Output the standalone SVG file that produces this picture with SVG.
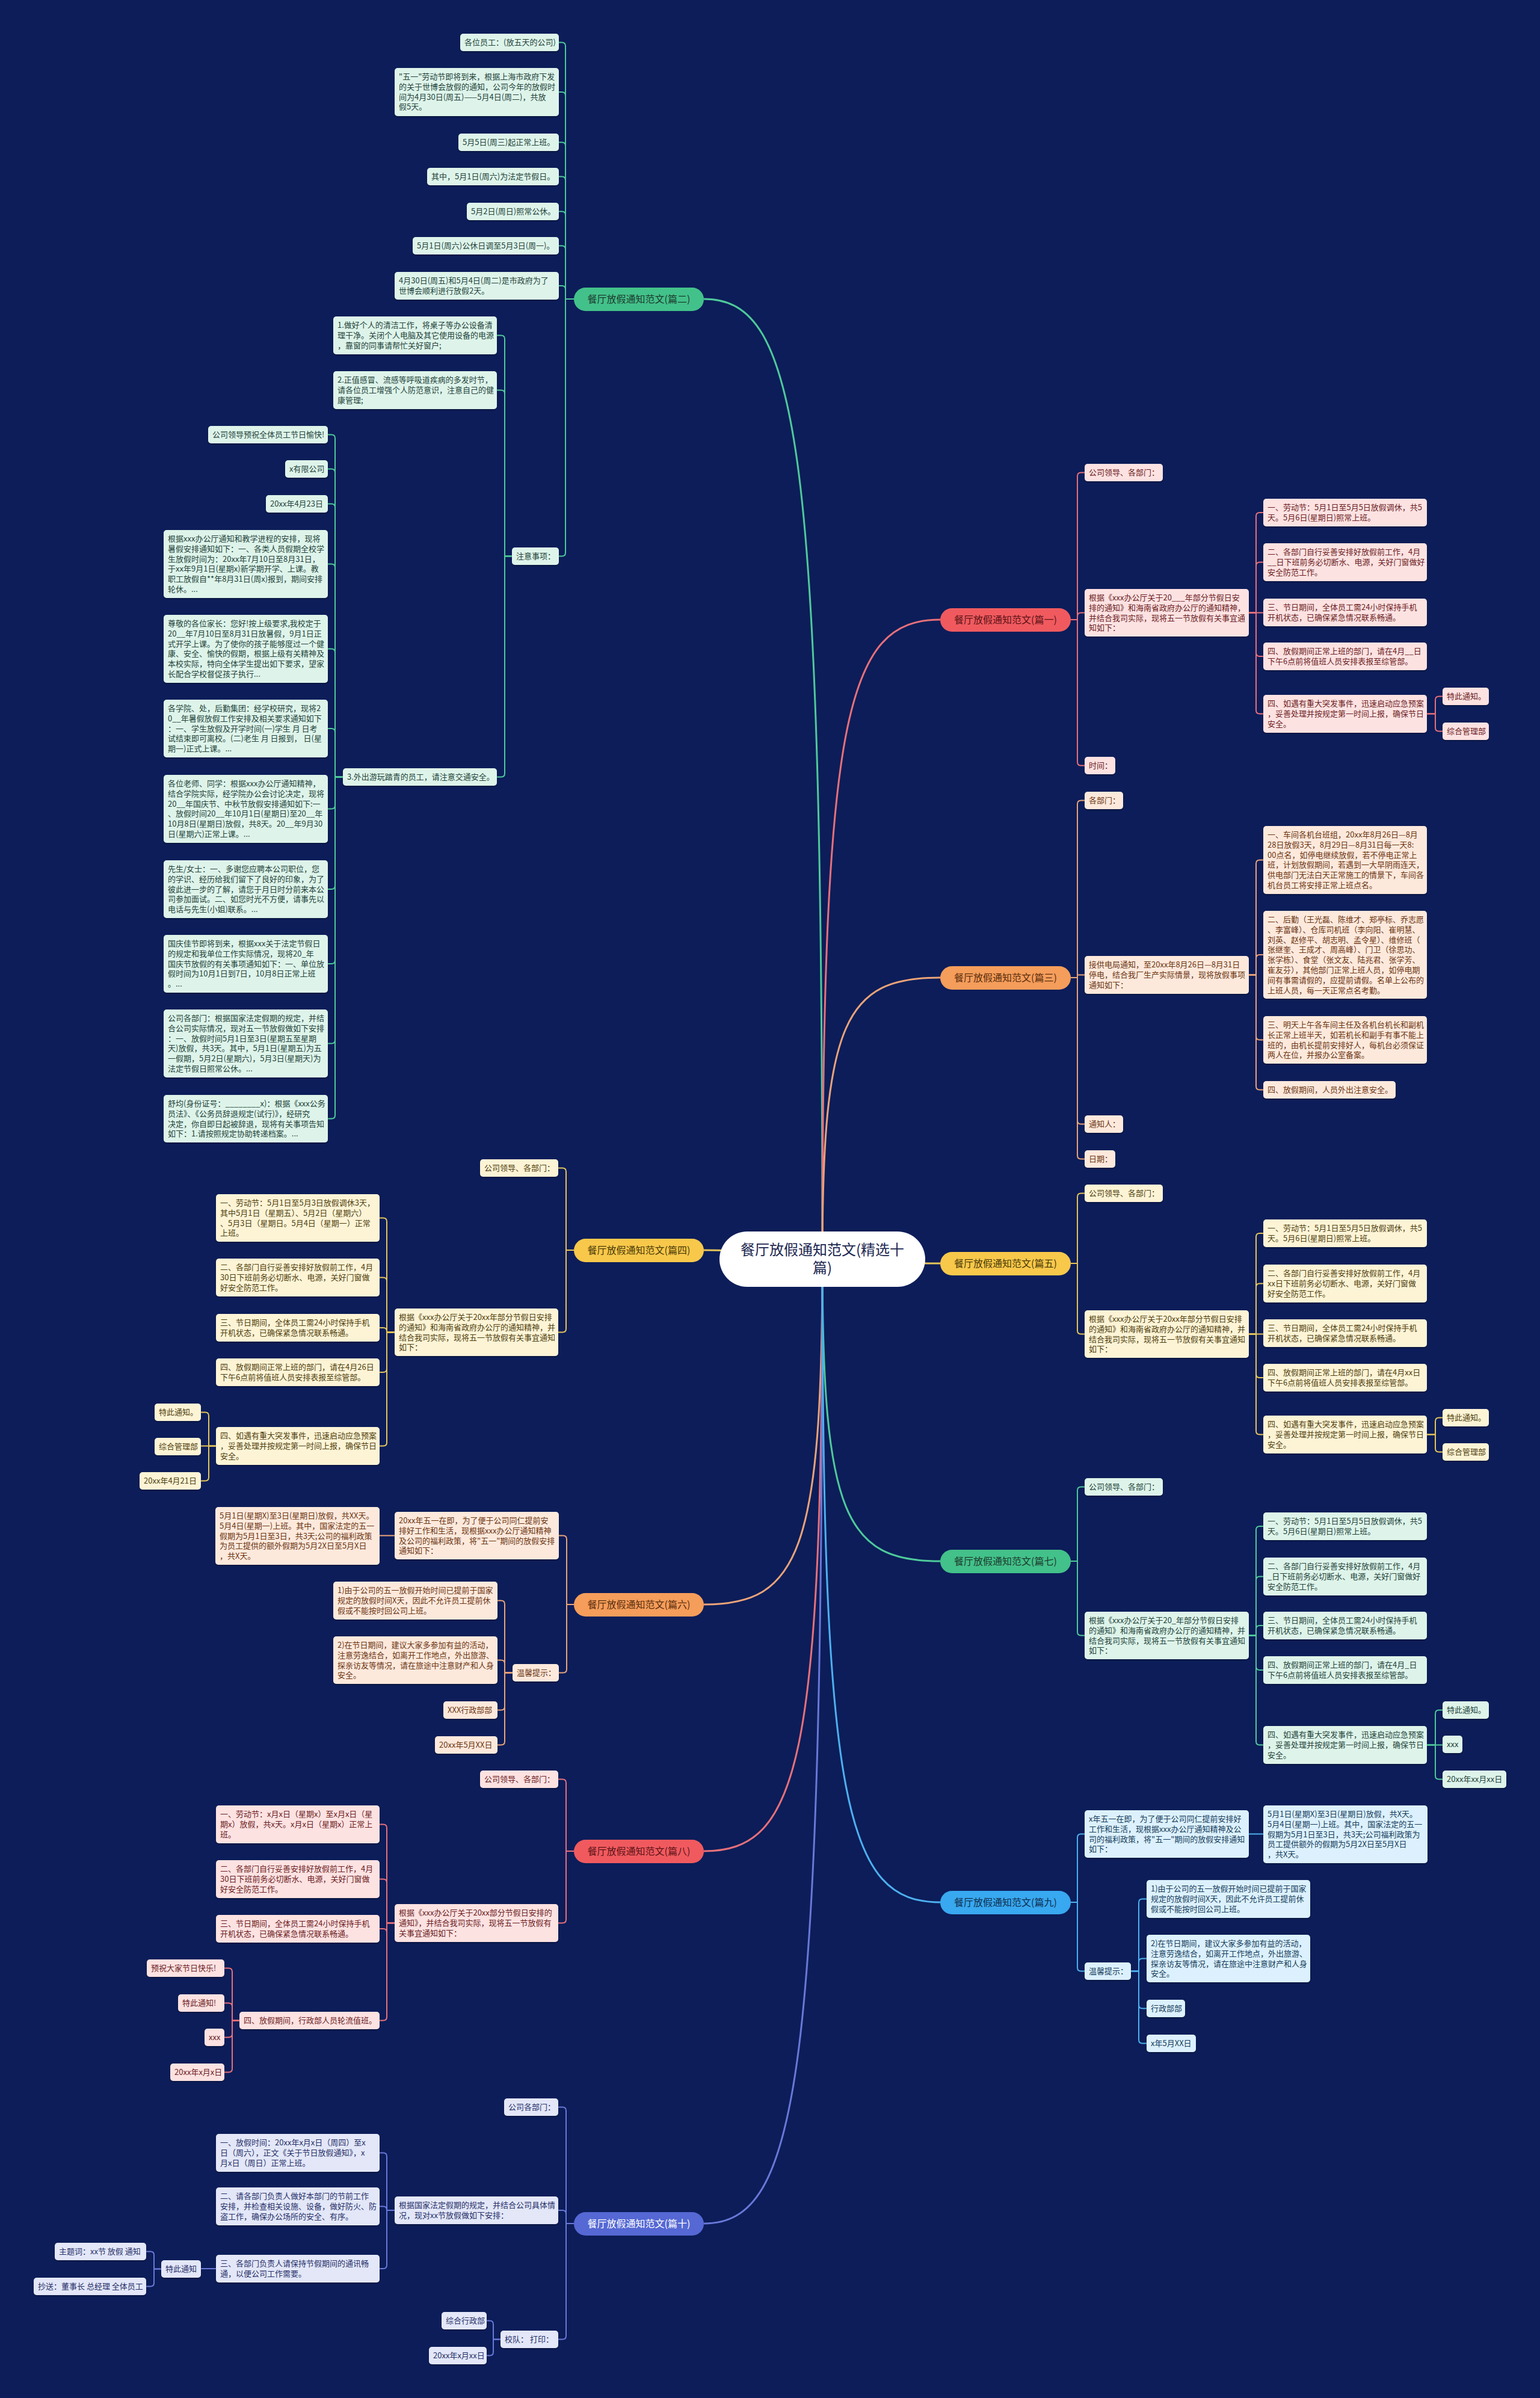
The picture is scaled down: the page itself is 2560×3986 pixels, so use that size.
<svg xmlns="http://www.w3.org/2000/svg" width="2560" height="3986" viewBox="0 0 2560 3986">
<defs>
<style>
.t{font-family:"Noto Sans CJK SC","Microsoft YaHei","Liberation Sans",sans-serif;font-size:13px}
.pt{font-family:"Noto Sans CJK SC","Microsoft YaHei","Liberation Sans",sans-serif;font-size:16px;text-anchor:middle}
.ct{font-family:"Noto Sans CJK SC","Microsoft YaHei","Liberation Sans",sans-serif;font-size:24px;text-anchor:middle;fill:#1c2750}
.b{filter:url(#sh)}
.bgr{fill:#def4ea}.tgr{fill:#24433a}
.brd{fill:#fde2e2}.trd{fill:#6b1d22}
.bor{fill:#fde9dc}.tor{fill:#6b3512}
.bye{fill:#fdf4d6}.tye{fill:#4f3f0e}
.bbl{fill:#dcf1fd}.tbl{fill:#163c5a}
.bin{fill:#e3e7f8}.tin{fill:#273069}
.pgr{fill:#43c18a}.ptgr{fill:#1c3b2e}
.prd{fill:#f05a5f}.ptrd{fill:#5c1216}
.por{fill:#f59d5b}.ptor{fill:#5a2d0c}
.pye{fill:#f8c84b}.ptye{fill:#4a3a08}
.pbl{fill:#38a8f0}.ptbl{fill:#0f2f4f}
.pin{fill:#5568d4}.ptin{fill:#ffffff}
.ln{fill:none;stroke-width:2}
.mn{fill:none;stroke-width:3}
.lgr{stroke:#4fc99a}.lrd{stroke:#e8707a}.lor{stroke:#eba379}.lye{stroke:#e5c558}.lbl{stroke:#4db0ef}.lin{stroke:#6a78d8}
</style>
<filter id="sh" x="-5%" y="-10%" width="110%" height="130%"><feDropShadow dx="0" dy="1.5" stdDeviation="1" flood-color="#000" flood-opacity="0.35"/></filter>
</defs>
<rect x="0" y="0" width="2560" height="3986" fill="#0c1d59"/>

<g id="connectors">
<!-- main branches -->
<path class="mn lgr" d="M1170,497 C1328,497 1367,736 1367,2093"/>
<path class="mn lye" d="M1170,2078 C1290,2078 1300,2093 1367,2093"/>
<path class="mn lor" d="M1170,2667 C1328,2667 1367,2581 1367,2093"/>
<path class="mn lrd" d="M1170,3077 C1328,3077 1367,2929 1367,2093"/>
<path class="mn lin" d="M1170,3696 C1328,3696 1367,3456 1367,2093"/>
<path class="mn lrd" d="M1563,1030 C1406,1030 1367,1189 1367,2093"/>
<path class="mn lor" d="M1563,1625 C1406,1625 1367,1695 1367,2093"/>
<path class="mn lye" d="M1563,2100 C1440,2100 1430,2093 1367,2093"/>
<path class="mn lgr" d="M1563,2595 C1406,2595 1367,2520 1367,2093"/>
<path class="mn lbl" d="M1563,3162 C1406,3162 1367,3002 1367,2093"/>

<!-- 篇二 -->
<g class="ln lgr">
<path d="M954,497H940V76.5Q940,70.5 934,70.5H929"/>
<path d="M954,497H940V159Q940,153 934,153H929"/>
<path d="M954,497H940V242.5Q940,236.5 934,236.5H929"/>
<path d="M954,497H940V299.5Q940,293.5 934,293.5H929"/>
<path d="M954,497H940V357.5Q940,351.5 934,351.5H929"/>
<path d="M954,497H940V414.5Q940,408.5 934,408.5H929"/>
<path d="M954,497H940V481Q940,475 934,475H929"/>
<path d="M954,497H940V918.5Q940,924.5 934,924.5H929"/>
<path d="M851,924.5H839V563.5Q839,557.5 833,557.5H826"/>
<path d="M851,924.5H839V654.5Q839,648.5 833,648.5H826"/>
<path d="M851,924.5H839V1285.5Q839,1291.5 833,1291.5H826"/>
<path d="M570,1291.5H557V728.5Q557,722.5 551,722.5H545"/>
<path d="M570,1291.5H557V785.5Q557,779.5 551,779.5H545"/>
<path d="M570,1291.5H557V843.5Q557,837.5 551,837.5H545"/>
<path d="M570,1291.5H557V943.5Q557,937.5 551,937.5H545"/>
<path d="M570,1291.5H557V1084.5Q557,1078.5 551,1078.5H545"/>
<path d="M570,1291.5H557V1217Q557,1211 551,1211H545"/>
<path d="M570,1291.5H557V1338.5Q557,1344.5 551,1344.5H545"/>
<path d="M570,1291.5H557V1472Q557,1478 551,1478H545"/>
<path d="M570,1291.5H557V1596Q557,1602 551,1602H545"/>
<path d="M570,1291.5H557V1728.5Q557,1734.5 551,1734.5H545"/>
<path d="M570,1291.5H557V1853.5Q557,1859.5 551,1859.5H545"/>
</g>
<!-- 篇一 -->
<g class="ln lrd">
<path d="M1780,1030H1791V791.5Q1791,785.5 1797,785.5H1803"/>
<path d="M1780,1030H1791V1024.5Q1791,1018.5 1797,1018.5H1803"/>
<path d="M1780,1030H1791V1266.5Q1791,1272.5 1797,1272.5H1803"/>
<path d="M2076,1018.5H2088V858Q2088,852 2094,852H2100"/>
<path d="M2076,1018.5H2088V940.5Q2088,934.5 2094,934.5H2100"/>
<path d="M2076,1018.5H2100"/>
<path d="M2076,1018.5H2088V1085Q2088,1091 2094,1091H2100"/>
<path d="M2076,1018.5H2088V1180.5Q2088,1186.5 2094,1186.5H2100"/>
<path d="M2372,1186.5H2386V1163.5Q2386,1157.5 2392,1157.5H2398"/>
<path d="M2372,1186.5H2386V1209.5Q2386,1215.5 2392,1215.5H2398"/>
</g>
<!-- 篇三 -->
<g class="ln lor">
<path d="M1780,1625H1791V1336.5Q1791,1330.5 1797,1330.5H1803"/>
<path d="M1780,1625H1791V1620.5H1803"/>
<path d="M1780,1625H1791V1862.5Q1791,1868.5 1797,1868.5H1803"/>
<path d="M1780,1625H1791V1920.5Q1791,1926.5 1797,1926.5H1803"/>
<path d="M2076,1620.5H2088V1435.5Q2088,1429.5 2094,1429.5H2100"/>
<path d="M2076,1620.5H2088V1593Q2088,1587 2094,1587H2100"/>
<path d="M2076,1620.5H2088V1722.5Q2088,1728.5 2094,1728.5H2100"/>
<path d="M2076,1620.5H2088V1805.5Q2088,1811.5 2094,1811.5H2100"/>
</g>
<!-- 篇四 -->
<g class="ln lye">
<path d="M954,2078H941V1947.5Q941,1941.5 935,1941.5H928"/>
<path d="M954,2078H941V2208.5Q941,2214.5 935,2214.5H928"/>
<path d="M656,2214.5H643V2030.5Q643,2024.5 637,2024.5H631"/>
<path d="M656,2214.5H643V2129.5Q643,2123.5 637,2123.5H631"/>
<path d="M656,2214.5H643V2213Q643,2207 637,2207H631"/>
<path d="M656,2214.5H643V2275Q643,2281 637,2281H631"/>
<path d="M656,2214.5H643V2397.5Q643,2403.5 637,2403.5H631"/>
<path d="M359,2403.5H347V2353.5Q347,2347.5 341,2347.5H334"/>
<path d="M359,2403.5H334"/>
<path d="M359,2403.5H347V2455.5Q347,2461.5 341,2461.5H334"/>
</g>
<!-- 篇五 -->
<g class="ln lye">
<path d="M1780,2100H1791V1989.5Q1791,1983.5 1797,1983.5H1803"/>
<path d="M1780,2100H1791V2211.5Q1791,2217.5 1797,2217.5H1803"/>
<path d="M2076,2217.5H2088V2056Q2088,2050 2094,2050H2100"/>
<path d="M2076,2217.5H2088V2139.5Q2088,2133.5 2094,2133.5H2100"/>
<path d="M2076,2217.5H2100"/>
<path d="M2076,2217.5H2088V2284Q2088,2290 2094,2290H2100"/>
<path d="M2076,2217.5H2088V2378.5Q2088,2384.5 2094,2384.5H2100"/>
<path d="M2372,2384.5H2386V2362.5Q2386,2356.5 2392,2356.5H2398"/>
<path d="M2372,2384.5H2386V2407.5Q2386,2413.5 2392,2413.5H2398"/>
</g>
<!-- 篇六 -->
<g class="ln lor">
<path d="M954,2667H942V2558.5Q942,2552.5 936,2552.5H929"/>
<path d="M954,2667H942V2774.5Q942,2780.5 936,2780.5H929"/>
<path d="M656,2552.5H631"/>
<path d="M852,2780.5H839V2666.5Q839,2660.5 833,2660.5H827"/>
<path d="M852,2780.5H839V2765.5Q839,2759.5 833,2759.5H827"/>
<path d="M852,2780.5H839V2836.5Q839,2842.5 833,2842.5H827"/>
<path d="M852,2780.5H839V2894.5Q839,2900.5 833,2900.5H827"/>
</g>
<!-- 篇七 -->
<g class="ln lgr">
<path d="M1780,2595H1791V2477.5Q1791,2471.5 1797,2471.5H1803"/>
<path d="M1780,2595H1791V2712.5Q1791,2718.5 1797,2718.5H1803"/>
<path d="M2076,2718.5H2088V2543Q2088,2537 2094,2537H2100"/>
<path d="M2076,2718.5H2088V2626.5Q2088,2620.5 2094,2620.5H2100"/>
<path d="M2076,2718.5H2088V2708Q2088,2702 2094,2702H2100"/>
<path d="M2076,2718.5H2088V2770Q2088,2776 2094,2776H2100"/>
<path d="M2076,2718.5H2088V2894.5Q2088,2900.5 2094,2900.5H2100"/>
<path d="M2372,2900.5H2386V2848.5Q2386,2842.5 2392,2842.5H2398"/>
<path d="M2372,2900.5H2398"/>
<path d="M2372,2900.5H2386V2951.5Q2386,2957.5 2392,2957.5H2398"/>
</g>
<!-- 篇八 -->
<g class="ln lrd">
<path d="M954,3077H941V2963.5Q941,2957.5 935,2957.5H928"/>
<path d="M954,3077H941V3190.5Q941,3196.5 935,3196.5H928"/>
<path d="M656,3196.5H643V3038.5Q643,3032.5 637,3032.5H631"/>
<path d="M656,3196.5H643V3129.5Q643,3123.5 637,3123.5H631"/>
<path d="M656,3196.5H643V3212Q643,3206 637,3206H631"/>
<path d="M656,3196.5H643V3352.5Q643,3358.5 637,3358.5H631"/>
<path d="M398,3358.5H386V3277.5Q386,3271.5 380,3271.5H373"/>
<path d="M398,3358.5H386V3335.5Q386,3329.5 380,3329.5H373"/>
<path d="M398,3358.5H386V3380.5Q386,3386.5 380,3386.5H373"/>
<path d="M398,3358.5H386V3438.5Q386,3444.5 380,3444.5H373"/>
</g>
<!-- 篇九 -->
<g class="ln lbl">
<path d="M1780,3162H1791V3054.5Q1791,3048.5 1797,3048.5H1803"/>
<path d="M1780,3162H1791V3270.5Q1791,3276.5 1797,3276.5H1803"/>
<path d="M2076,3048.5H2100"/>
<path d="M1880,3276.5H1893V3162.5Q1893,3156.5 1899,3156.5H1906"/>
<path d="M1880,3276.5H1893V3261.5Q1893,3255.5 1899,3255.5H1906"/>
<path d="M1880,3276.5H1893V3332.5Q1893,3338.5 1899,3338.5H1906"/>
<path d="M1880,3276.5H1893V3390.5Q1893,3396.5 1899,3396.5H1906"/>
</g>
<!-- 篇十 -->
<g class="ln lin">
<path d="M954,3696H941V3508.5Q941,3502.5 935,3502.5H928"/>
<path d="M954,3696H941V3680Q941,3674 935,3674H928"/>
<path d="M954,3696H941V3882.5Q941,3888.5 935,3888.5H928"/>
<path d="M656,3674H643V3584.5Q643,3578.5 637,3578.5H631"/>
<path d="M656,3674H643V3673.5Q643,3667.5 637,3667.5H631"/>
<path d="M656,3674H643V3765Q643,3771 637,3771H631"/>
<path d="M359,3771H334"/>
<path d="M268,3771.5H256V3748.5Q256,3742.5 250,3742.5H243"/>
<path d="M268,3771.5H256V3794.5Q256,3800.5 250,3800.5H243"/>
<path d="M832,3888.5H820V3863.5Q820,3857.5 814,3857.5H809"/>
<path d="M832,3888.5H820V3909.5Q820,3915.5 814,3915.5H809"/>
</g>
</g>

<g id="center">
<rect x="1196" y="2047" width="342" height="92" rx="46" fill="#ffffff"/>
<text class="ct" x="1367" y="2086">餐厅放假通知范文(精选十</text>
<text class="ct" x="1367" y="2116">篇)</text>
</g>

<!-- pills -->
<g id="b2"><rect class="pgr" x="954" y="478" width="216" height="39" rx="19.5"/><text class="pt ptgr" x="1062" y="503">餐厅放假通知范文(篇二)</text></g>
<g id="b4"><rect class="pye" x="954" y="2059" width="216" height="39" rx="19.5"/><text class="pt ptye" x="1062" y="2084">餐厅放假通知范文(篇四)</text></g>
<g id="b6"><rect class="por" x="954" y="2648" width="216" height="39" rx="19.5"/><text class="pt ptor" x="1062" y="2673">餐厅放假通知范文(篇六)</text></g>
<g id="b8"><rect class="prd" x="954" y="3058" width="216" height="39" rx="19.5"/><text class="pt ptrd" x="1062" y="3083">餐厅放假通知范文(篇八)</text></g>
<g id="b10"><rect class="pin" x="954" y="3677" width="216" height="39" rx="19.5"/><text class="pt ptin" x="1062" y="3702">餐厅放假通知范文(篇十)</text></g>
<g id="b1"><rect class="prd" x="1563" y="1011" width="217" height="39" rx="19.5"/><text class="pt ptrd" x="1671.5" y="1036">餐厅放假通知范文(篇一)</text></g>
<g id="b3"><rect class="por" x="1563" y="1606" width="217" height="39" rx="19.5"/><text class="pt ptor" x="1671.5" y="1631">餐厅放假通知范文(篇三)</text></g>
<g id="b5"><rect class="pye" x="1563" y="2081" width="217" height="39" rx="19.5"/><text class="pt ptye" x="1671.5" y="2106">餐厅放假通知范文(篇五)</text></g>
<g id="b7"><rect class="pgr" x="1563" y="2576" width="217" height="39" rx="19.5"/><text class="pt ptgr" x="1671.5" y="2601">餐厅放假通知范文(篇七)</text></g>
<g id="b9"><rect class="pbl" x="1563" y="3143" width="217" height="39" rx="19.5"/><text class="pt ptbl" x="1671.5" y="3168">餐厅放假通知范文(篇九)</text></g>

<!-- 篇二 nodes -->
<g id="n2-1"><rect class="b bgr" x="765" y="56" width="164" height="29" rx="5"/><text class="t tgr" x="772" y="75">各位员工：(放五天的公司)</text></g>
<g id="n2-2"><rect class="b bgr" x="656" y="113" width="273" height="80" rx="5"/><text class="t tgr" x="663" y="132"><tspan x="663">"五一"劳动节即将到来，根据上海市政府下发</tspan><tspan x="663" dy="16.8">的关于世博会放假的通知，公司今年的放假时</tspan><tspan x="663" dy="16.8">间为4月30日(周五)——5月4日(周二)，共放</tspan><tspan x="663" dy="16.8">假5天。</tspan></text></g>
<g id="n2-3"><rect class="b bgr" x="762" y="222" width="167" height="29" rx="5"/><text class="t tgr" x="769" y="241">5月5日(周三)起正常上班。</text></g>
<g id="n2-4"><rect class="b bgr" x="710" y="279" width="219" height="29" rx="5"/><text class="t tgr" x="717" y="298">其中，5月1日(周六)为法定节假日。</text></g>
<g id="n2-5"><rect class="b bgr" x="776" y="337" width="153" height="29" rx="5"/><text class="t tgr" x="783" y="356">5月2日(周日)照常公休。</text></g>
<g id="n2-6"><rect class="b bgr" x="686" y="394" width="243" height="29" rx="5"/><text class="t tgr" x="693" y="413">5月1日(周六)公休日调至5月3日(周一)。</text></g>
<g id="n2-7"><rect class="b bgr" x="656" y="452" width="273" height="46" rx="5"/><text class="t tgr" x="663" y="471"><tspan x="663">4月30日(周五)和5月4日(周二)是市政府为了</tspan><tspan x="663" dy="16.8">世博会顺利进行放假2天。</tspan></text></g>
<g id="n2-8"><rect class="b bgr" x="851" y="910" width="78" height="29" rx="5"/><text class="t tgr" x="858" y="929">注意事项：</text></g>
<g id="n2-9"><rect class="b bgr" x="554" y="526" width="272" height="63" rx="5"/><text class="t tgr" x="561" y="545"><tspan x="561">1.做好个人的清洁工作，将桌子等办公设备清</tspan><tspan x="561" dy="16.8">理干净。关闭个人电脑及其它使用设备的电源</tspan><tspan x="561" dy="16.8">，靠窗的同事请帮忙关好窗户;</tspan></text></g>
<g id="n2-10"><rect class="b bgr" x="554" y="617" width="272" height="63" rx="5"/><text class="t tgr" x="561" y="636"><tspan x="561">2.正值感冒、流感等呼吸道疾病的多发时节，</tspan><tspan x="561" dy="16.8">请各位员工增强个人防范意识，注意自己的健</tspan><tspan x="561" dy="16.8">康管理;</tspan></text></g>
<g id="n2-11"><rect class="b bgr" x="570" y="1277" width="256" height="29" rx="5"/><text class="t tgr" x="577" y="1296">3.外出游玩踏青的员工，请注意交通安全。</text></g>
<g id="n2-12"><rect class="b bgr" x="346" y="708" width="199" height="29" rx="5"/><text class="t tgr" x="353" y="727">公司领导预祝全体员工节日愉快!</text></g>
<g id="n2-13"><rect class="b bgr" x="474" y="765" width="71" height="29" rx="5"/><text class="t tgr" x="481" y="784">x有限公司</text></g>
<g id="n2-14"><rect class="b bgr" x="442" y="823" width="103" height="29" rx="5"/><text class="t tgr" x="449" y="842">20xx年4月23日</text></g>
<g id="n2-15"><rect class="b bgr" x="272" y="881" width="273" height="113" rx="5"/><text class="t tgr" x="279" y="900"><tspan x="279">根据xxx办公厅通知和教学进程的安排，现将</tspan><tspan x="279" dy="16.8">暑假安排通知如下：一、各类人员假期全校学</tspan><tspan x="279" dy="16.8">生放假时间为：20xx年7月10日至8月31日，</tspan><tspan x="279" dy="16.8">于xx年9月1日(星期x)新学期开学、上课。教</tspan><tspan x="279" dy="16.8">职工放假自**年8月31日(周x)报到，期间安排</tspan><tspan x="279" dy="16.8">轮休。...</tspan></text></g>
<g id="n2-16"><rect class="b bgr" x="272" y="1022" width="273" height="113" rx="5"/><text class="t tgr" x="279" y="1041"><tspan x="279">尊敬的各位家长：您好!按上级要求,我校定于</tspan><tspan x="279" dy="16.8">20__年7月10日至8月31日放暑假，9月1日正</tspan><tspan x="279" dy="16.8">式开学上课。为了使你的孩子能够度过一个健</tspan><tspan x="279" dy="16.8">康、安全、愉快的假期，根据上级有关精神及</tspan><tspan x="279" dy="16.8">本校实际，特向全体学生提出如下要求，望家</tspan><tspan x="279" dy="16.8">长配合学校督促孩子执行...</tspan></text></g>
<g id="n2-17"><rect class="b bgr" x="272" y="1163" width="273" height="96" rx="5"/><text class="t tgr" x="279" y="1182"><tspan x="279">各学院、处，后勤集团：经学校研究，现将2</tspan><tspan x="279" dy="16.8">0__年暑假放假工作安排及相关要求通知如下</tspan><tspan x="279" dy="16.8">：一、学生放假及开学时间(一)学生 月 日考</tspan><tspan x="279" dy="16.8">试结束即可离校。(二)老生 月 日报到， 日(星</tspan><tspan x="279" dy="16.8">期一)正式上课。...</tspan></text></g>
<g id="n2-18"><rect class="b bgr" x="272" y="1288" width="273" height="113" rx="5"/><text class="t tgr" x="279" y="1307"><tspan x="279">各位老师、同学：根据xxx办公厅通知精神，</tspan><tspan x="279" dy="16.8">结合学院实际，经学院办公会讨论决定，现将</tspan><tspan x="279" dy="16.8">20__年国庆节、中秋节放假安排通知如下:一</tspan><tspan x="279" dy="16.8">、放假时间20__年10月1日(星期日)至20__年</tspan><tspan x="279" dy="16.8">10月8日(星期日)放假，共8天。20__年9月30</tspan><tspan x="279" dy="16.8">日(星期六)正常上课。...</tspan></text></g>
<g id="n2-19"><rect class="b bgr" x="272" y="1430" width="273" height="96" rx="5"/><text class="t tgr" x="279" y="1449"><tspan x="279">先生/女士：一、多谢您应聘本公司职位，您</tspan><tspan x="279" dy="16.8">的学识、经历给我们留下了良好的印象，为了</tspan><tspan x="279" dy="16.8">彼此进一步的了解，请您于月日时分前来本公</tspan><tspan x="279" dy="16.8">司参加面试。二、如您时光不方便，请事先以</tspan><tspan x="279" dy="16.8">电话与先生(小姐)联系。...</tspan></text></g>
<g id="n2-20"><rect class="b bgr" x="272" y="1554" width="273" height="96" rx="5"/><text class="t tgr" x="279" y="1573"><tspan x="279">国庆佳节即将到来，根据xxx关于法定节假日</tspan><tspan x="279" dy="16.8">的规定和我单位工作实际情况，现将20_年</tspan><tspan x="279" dy="16.8">国庆节放假的有关事项通知如下：一、单位放</tspan><tspan x="279" dy="16.8">假时间为10月1日到7日，10月8日正常上班</tspan><tspan x="279" dy="16.8">。...</tspan></text></g>
<g id="n2-21"><rect class="b bgr" x="272" y="1678" width="273" height="113" rx="5"/><text class="t tgr" x="279" y="1697"><tspan x="279">公司各部门：根据国家法定假期的规定，并结</tspan><tspan x="279" dy="16.8">合公司实际情况，现对五一节放假做如下安排</tspan><tspan x="279" dy="16.8">：一、放假时间5月1日至3日(星期五至星期</tspan><tspan x="279" dy="16.8">天)放假，共3天。其中，5月1日(星期五)为五</tspan><tspan x="279" dy="16.8">一假期，5月2日(星期六)，5月3日(星期天)为</tspan><tspan x="279" dy="16.8">法定节假日照常公休。...</tspan></text></g>
<g id="n2-22"><rect class="b bgr" x="272" y="1820" width="273" height="79" rx="5"/><text class="t tgr" x="279" y="1839"><tspan x="279">舒均(身份证号：________x)：根据《xxx公务</tspan><tspan x="279" dy="16.8">员法》、《公务员辞退规定(试行)》，经研究</tspan><tspan x="279" dy="16.8">决定，你自即日起被辞退，现将有关事项告知</tspan><tspan x="279" dy="16.8">如下：1.请按照规定协助转递档案。...</tspan></text></g>

<!-- 篇一 nodes -->
<g id="n1-1"><rect class="b brd" x="1803" y="771" width="130" height="29" rx="5"/><text class="t trd" x="1810" y="790">公司领导、各部门：</text></g>
<g id="n1-2"><rect class="b brd" x="1803" y="979" width="273" height="79" rx="5"/><text class="t trd" x="1810" y="998"><tspan x="1810">根据《xxx办公厅关于20___年部分节假日安</tspan><tspan x="1810" dy="16.8">排的通知》和海南省政府办公厅的通知精神，</tspan><tspan x="1810" dy="16.8">并结合我司实际，现将五一节放假有关事宜通</tspan><tspan x="1810" dy="16.8">知如下：</tspan></text></g>
<g id="n1-3"><rect class="b brd" x="1803" y="1258" width="51" height="29" rx="5"/><text class="t trd" x="1810" y="1277">时间：</text></g>
<g id="n1-4"><rect class="b brd" x="2100" y="829" width="272" height="46" rx="5"/><text class="t trd" x="2107" y="848"><tspan x="2107">一、劳动节：5月1日至5月5日放假调休，共5</tspan><tspan x="2107" dy="16.8">天。5月6日(星期日)照常上班。</tspan></text></g>
<g id="n1-5"><rect class="b brd" x="2100" y="903" width="272" height="63" rx="5"/><text class="t trd" x="2107" y="922"><tspan x="2107">二、各部门自行妥善安排好放假前工作，4月</tspan><tspan x="2107" dy="16.8">__日下班前务必切断水、电源，关好门窗做好</tspan><tspan x="2107" dy="16.8">安全防范工作。</tspan></text></g>
<g id="n1-6"><rect class="b brd" x="2100" y="995" width="272" height="46" rx="5"/><text class="t trd" x="2107" y="1014"><tspan x="2107">三、节日期间，全体员工需24小时保持手机</tspan><tspan x="2107" dy="16.8">开机状态，已确保紧急情况联系畅通。</tspan></text></g>
<g id="n1-7"><rect class="b brd" x="2100" y="1068" width="272" height="46" rx="5"/><text class="t trd" x="2107" y="1087"><tspan x="2107">四、放假期间正常上班的部门，请在4月__日</tspan><tspan x="2107" dy="16.8">下午6点前将值班人员安排表报至综管部。</tspan></text></g>
<g id="n1-8"><rect class="b brd" x="2100" y="1155" width="272" height="63" rx="5"/><text class="t trd" x="2107" y="1174"><tspan x="2107">四、如遇有重大突发事件，迅速启动应急预案</tspan><tspan x="2107" dy="16.8">，妥善处理并按规定第一时间上报，确保节日</tspan><tspan x="2107" dy="16.8">安全。</tspan></text></g>
<g id="n1-9"><rect class="b brd" x="2398" y="1143" width="77" height="29" rx="5"/><text class="t trd" x="2405" y="1162">特此通知。</text></g>
<g id="n1-10"><rect class="b brd" x="2398" y="1201" width="77" height="29" rx="5"/><text class="t trd" x="2405" y="1220">综合管理部</text></g>

<!-- 篇三 nodes -->
<g id="n3-1"><rect class="b bor" x="1803" y="1316" width="64" height="29" rx="5"/><text class="t tor" x="1810" y="1335">各部门：</text></g>
<g id="n3-2"><rect class="b bor" x="1803" y="1589" width="273" height="63" rx="5"/><text class="t tor" x="1810" y="1608"><tspan x="1810">接供电局通知，至20xx年8月26日—8月31日</tspan><tspan x="1810" dy="16.8">停电，结合我厂生产实际情景，现将放假事项</tspan><tspan x="1810" dy="16.8">通知如下：</tspan></text></g>
<g id="n3-3"><rect class="b bor" x="1803" y="1854" width="64" height="29" rx="5"/><text class="t tor" x="1810" y="1873">通知人：</text></g>
<g id="n3-4"><rect class="b bor" x="1803" y="1912" width="51" height="29" rx="5"/><text class="t tor" x="1810" y="1931">日期：</text></g>
<g id="n3-5"><rect class="b bor" x="2100" y="1373" width="272" height="113" rx="5"/><text class="t tor" x="2107" y="1392"><tspan x="2107">一、车间各机台班组，20xx年8月26日—8月</tspan><tspan x="2107" dy="16.8">28日放假3天，8月29日—8月31日每一天8:</tspan><tspan x="2107" dy="16.8">00点名，如停电继续放假，若不停电正常上</tspan><tspan x="2107" dy="16.8">班，计划放假期间，若遇到一大早阴雨连天，</tspan><tspan x="2107" dy="16.8">供电部门无法白天正常施工的情景下，车间各</tspan><tspan x="2107" dy="16.8">机台员工将安排正常上班点名。</tspan></text></g>
<g id="n3-6"><rect class="b bor" x="2100" y="1514" width="272" height="146" rx="5"/><text class="t tor" x="2107" y="1533"><tspan x="2107">二、后勤（王光磊、陈维才、郑亭标、乔志愿</tspan><tspan x="2107" dy="16.8">、李富峰）、仓库司机班（李向阳、崔明慧、</tspan><tspan x="2107" dy="16.8">刘英、赵修平、胡志明、孟令星）、维修班（</tspan><tspan x="2107" dy="16.8">张继奎、王成才、周高峰）、门卫（徐思功、</tspan><tspan x="2107" dy="16.8">张学栋）、食堂（张文友、陆兆君、张学芳、</tspan><tspan x="2107" dy="16.8">崔友芬），其他部门正常上班人员，如停电期</tspan><tspan x="2107" dy="16.8">间有事需请假的，应提前请假。名单上公布的</tspan><tspan x="2107" dy="16.8">上班人员，每一天正常点名考勤。</tspan></text></g>
<g id="n3-7"><rect class="b bor" x="2100" y="1689" width="272" height="79" rx="5"/><text class="t tor" x="2107" y="1708"><tspan x="2107">三、明天上午各车间主任及各机台机长和副机</tspan><tspan x="2107" dy="16.8">长正常上班半天，如若机长和副手有事不能上</tspan><tspan x="2107" dy="16.8">班的，由机长提前安排好人，每机台必须保证</tspan><tspan x="2107" dy="16.8">两人在位，并报办公室备案。</tspan></text></g>
<g id="n3-8"><rect class="b bor" x="2100" y="1797" width="220" height="29" rx="5"/><text class="t tor" x="2107" y="1816">四、放假期间，人员外出注意安全。</text></g>

<!-- 篇四 nodes -->
<g id="n4-1"><rect class="b bye" x="798" y="1927" width="130" height="29" rx="5"/><text class="t tye" x="805" y="1946">公司领导、各部门：</text></g>
<g id="n4-2"><rect class="b bye" x="656" y="2175" width="272" height="79" rx="5"/><text class="t tye" x="663" y="2194"><tspan x="663">根据《xxx办公厅关于20xx年部分节假日安排</tspan><tspan x="663" dy="16.8">的通知》和海南省政府办公厅的通知精神，并</tspan><tspan x="663" dy="16.8">结合我司实际，现将五一节放假有关事宜通知</tspan><tspan x="663" dy="16.8">如下：</tspan></text></g>
<g id="n4-3"><rect class="b bye" x="359" y="1985" width="272" height="79" rx="5"/><text class="t tye" x="366" y="2004"><tspan x="366">一、劳动节：5月1日至5月3日放假调休3天，</tspan><tspan x="366" dy="16.8">其中5月1日（星期五）、5月2日（星期六）</tspan><tspan x="366" dy="16.8">、5月3日（星期日。5月4日（星期一）正常</tspan><tspan x="366" dy="16.8">上班。</tspan></text></g>
<g id="n4-4"><rect class="b bye" x="359" y="2092" width="272" height="63" rx="5"/><text class="t tye" x="366" y="2111"><tspan x="366">二、各部门自行妥善安排好放假前工作，4月</tspan><tspan x="366" dy="16.8">30日下班前务必切断水、电源，关好门窗做</tspan><tspan x="366" dy="16.8">好安全防范工作。</tspan></text></g>
<g id="n4-5"><rect class="b bye" x="359" y="2184" width="272" height="46" rx="5"/><text class="t tye" x="366" y="2203"><tspan x="366">三、节日期间，全体员工需24小时保持手机</tspan><tspan x="366" dy="16.8">开机状态，已确保紧急情况联系畅通。</tspan></text></g>
<g id="n4-6"><rect class="b bye" x="359" y="2258" width="272" height="46" rx="5"/><text class="t tye" x="366" y="2277"><tspan x="366">四、放假期间正常上班的部门，请在4月26日</tspan><tspan x="366" dy="16.8">下午6点前将值班人员安排表报至综管部。</tspan></text></g>
<g id="n4-7"><rect class="b bye" x="359" y="2372" width="272" height="63" rx="5"/><text class="t tye" x="366" y="2391"><tspan x="366">四、如遇有重大突发事件，迅速启动应急预案</tspan><tspan x="366" dy="16.8">，妥善处理并按规定第一时间上报，确保节日</tspan><tspan x="366" dy="16.8">安全。</tspan></text></g>
<g id="n4-8"><rect class="b bye" x="257" y="2333" width="77" height="29" rx="5"/><text class="t tye" x="264" y="2352">特此通知。</text></g>
<g id="n4-9"><rect class="b bye" x="257" y="2390" width="77" height="29" rx="5"/><text class="t tye" x="264" y="2409">综合管理部</text></g>
<g id="n4-10"><rect class="b bye" x="232" y="2447" width="102" height="29" rx="5"/><text class="t tye" x="239" y="2466">20xx年4月21日</text></g>

<!-- 篇五 nodes -->
<g id="n5-1"><rect class="b bye" x="1803" y="1969" width="130" height="29" rx="5"/><text class="t tye" x="1810" y="1988">公司领导、各部门：</text></g>
<g id="n5-2"><rect class="b bye" x="1803" y="2178" width="273" height="79" rx="5"/><text class="t tye" x="1810" y="2197"><tspan x="1810">根据《xxx办公厅关于20xx年部分节假日安排</tspan><tspan x="1810" dy="16.8">的通知》和海南省政府办公厅的通知精神，并</tspan><tspan x="1810" dy="16.8">结合我司实际，现将五一节放假有关事宜通知</tspan><tspan x="1810" dy="16.8">如下：</tspan></text></g>
<g id="n5-3"><rect class="b bye" x="2100" y="2027" width="272" height="46" rx="5"/><text class="t tye" x="2107" y="2046"><tspan x="2107">一、劳动节：5月1日至5月5日放假调休，共5</tspan><tspan x="2107" dy="16.8">天。5月6日(星期日)照常上班。</tspan></text></g>
<g id="n5-4"><rect class="b bye" x="2100" y="2102" width="272" height="63" rx="5"/><text class="t tye" x="2107" y="2121"><tspan x="2107">二、各部门自行妥善安排好放假前工作，4月</tspan><tspan x="2107" dy="16.8">xx日下班前务必切断水、电源，关好门窗做</tspan><tspan x="2107" dy="16.8">好安全防范工作。</tspan></text></g>
<g id="n5-5"><rect class="b bye" x="2100" y="2193" width="272" height="46" rx="5"/><text class="t tye" x="2107" y="2212"><tspan x="2107">三、节日期间，全体员工需24小时保持手机</tspan><tspan x="2107" dy="16.8">开机状态，已确保紧急情况联系畅通。</tspan></text></g>
<g id="n5-6"><rect class="b bye" x="2100" y="2267" width="272" height="46" rx="5"/><text class="t tye" x="2107" y="2286"><tspan x="2107">四、放假期间正常上班的部门，请在4月xx日</tspan><tspan x="2107" dy="16.8">下午6点前将值班人员安排表报至综管部。</tspan></text></g>
<g id="n5-7"><rect class="b bye" x="2100" y="2353" width="272" height="63" rx="5"/><text class="t tye" x="2107" y="2372"><tspan x="2107">四、如遇有重大突发事件，迅速启动应急预案</tspan><tspan x="2107" dy="16.8">，妥善处理并按规定第一时间上报，确保节日</tspan><tspan x="2107" dy="16.8">安全。</tspan></text></g>
<g id="n5-8"><rect class="b bye" x="2398" y="2342" width="77" height="29" rx="5"/><text class="t tye" x="2405" y="2361">特此通知。</text></g>
<g id="n5-9"><rect class="b bye" x="2398" y="2399" width="77" height="29" rx="5"/><text class="t tye" x="2405" y="2418">综合管理部</text></g>

<!-- 篇六 nodes -->
<g id="n6-1"><rect class="b bor" x="656" y="2513" width="273" height="79" rx="5"/><text class="t tor" x="663" y="2532"><tspan x="663">20xx年五一在即，为了便于公司同仁提前安</tspan><tspan x="663" dy="16.8">排好工作和生活，现根据xxx办公厅通知精神</tspan><tspan x="663" dy="16.8">及公司的福利政策，将"五一"期间的放假安排</tspan><tspan x="663" dy="16.8">通知如下：</tspan></text></g>
<g id="n6-2"><rect class="b bor" x="358" y="2505" width="273" height="96" rx="5"/><text class="t tor" x="365" y="2524"><tspan x="365">5月1日(星期X)至3日(星期日)放假，共XX天。</tspan><tspan x="365" dy="16.8">5月4日(星期一)上班。其中，国家法定的五一</tspan><tspan x="365" dy="16.8">假期为5月1日至3日，共3天;公司的福利政策</tspan><tspan x="365" dy="16.8">为员工提供的额外假期为5月2X日至5月X日</tspan><tspan x="365" dy="16.8">，共X天。</tspan></text></g>
<g id="n6-3"><rect class="b bor" x="852" y="2766" width="77" height="29" rx="5"/><text class="t tor" x="859" y="2785">温馨提示：</text></g>
<g id="n6-4"><rect class="b bor" x="554" y="2629" width="273" height="63" rx="5"/><text class="t tor" x="561" y="2648"><tspan x="561">1)由于公司的五一放假开始时间已提前于国家</tspan><tspan x="561" dy="16.8">规定的放假时间X天，因此不允许员工提前休</tspan><tspan x="561" dy="16.8">假或不能按时回公司上班。</tspan></text></g>
<g id="n6-5"><rect class="b bor" x="554" y="2720" width="273" height="79" rx="5"/><text class="t tor" x="561" y="2739"><tspan x="561">2)在节日期间，建议大家多参加有益的活动，</tspan><tspan x="561" dy="16.8">注意劳逸结合，如离开工作地点，外出旅游、</tspan><tspan x="561" dy="16.8">探亲访友等情况，请在旅途中注意财产和人身</tspan><tspan x="561" dy="16.8">安全。</tspan></text></g>
<g id="n6-6"><rect class="b bor" x="737" y="2828" width="90" height="29" rx="5"/><text class="t tor" x="744" y="2847">XXX行政部部</text></g>
<g id="n6-7"><rect class="b bor" x="723" y="2886" width="104" height="29" rx="5"/><text class="t tor" x="730" y="2905">20xx年5月XX日</text></g>

<!-- 篇七 nodes -->
<g id="n7-1"><rect class="b bgr" x="1803" y="2457" width="130" height="29" rx="5"/><text class="t tgr" x="1810" y="2476">公司领导、各部门：</text></g>
<g id="n7-2"><rect class="b bgr" x="1803" y="2679" width="273" height="79" rx="5"/><text class="t tgr" x="1810" y="2698"><tspan x="1810">根据《xxx办公厅关于20_年部分节假日安排</tspan><tspan x="1810" dy="16.8">的通知》和海南省政府办公厅的通知精神，并</tspan><tspan x="1810" dy="16.8">结合我司实际，现将五一节放假有关事宜通知</tspan><tspan x="1810" dy="16.8">如下：</tspan></text></g>
<g id="n7-3"><rect class="b bgr" x="2100" y="2514" width="272" height="46" rx="5"/><text class="t tgr" x="2107" y="2533"><tspan x="2107">一、劳动节：5月1日至5月5日放假调休，共5</tspan><tspan x="2107" dy="16.8">天。5月6日(星期日)照常上班。</tspan></text></g>
<g id="n7-4"><rect class="b bgr" x="2100" y="2589" width="272" height="63" rx="5"/><text class="t tgr" x="2107" y="2608"><tspan x="2107">二、各部门自行妥善安排好放假前工作，4月</tspan><tspan x="2107" dy="16.8">_日下班前务必切断水、电源，关好门窗做好</tspan><tspan x="2107" dy="16.8">安全防范工作。</tspan></text></g>
<g id="n7-5"><rect class="b bgr" x="2100" y="2679" width="272" height="46" rx="5"/><text class="t tgr" x="2107" y="2698"><tspan x="2107">三、节日期间，全体员工需24小时保持手机</tspan><tspan x="2107" dy="16.8">开机状态，已确保紧急情况联系畅通。</tspan></text></g>
<g id="n7-6"><rect class="b bgr" x="2100" y="2753" width="272" height="46" rx="5"/><text class="t tgr" x="2107" y="2772"><tspan x="2107">四、放假期间正常上班的部门，请在4月_日</tspan><tspan x="2107" dy="16.8">下午6点前将值班人员安排表报至综管部。</tspan></text></g>
<g id="n7-7"><rect class="b bgr" x="2100" y="2869" width="272" height="63" rx="5"/><text class="t tgr" x="2107" y="2888"><tspan x="2107">四、如遇有重大突发事件，迅速启动应急预案</tspan><tspan x="2107" dy="16.8">，妥善处理并按规定第一时间上报，确保节日</tspan><tspan x="2107" dy="16.8">安全。</tspan></text></g>
<g id="n7-8"><rect class="b bgr" x="2398" y="2828" width="77" height="29" rx="5"/><text class="t tgr" x="2405" y="2847">特此通知。</text></g>
<g id="n7-9"><rect class="b bgr" x="2398" y="2885" width="33" height="29" rx="5"/><text class="t tgr" x="2405" y="2904">xxx</text></g>
<g id="n7-10"><rect class="b bgr" x="2398" y="2943" width="106" height="29" rx="5"/><text class="t tgr" x="2405" y="2962">20xx年xx月xx日</text></g>

<!-- 篇八 nodes -->
<g id="n8-1"><rect class="b brd" x="798" y="2943" width="130" height="29" rx="5"/><text class="t trd" x="805" y="2962">公司领导、各部门：</text></g>
<g id="n8-2"><rect class="b brd" x="656" y="3165" width="272" height="63" rx="5"/><text class="t trd" x="663" y="3184"><tspan x="663">根据《xxx办公厅关于20xx部分节假日安排的</tspan><tspan x="663" dy="16.8">通知》，并结合我司实际，现将五一节放假有</tspan><tspan x="663" dy="16.8">关事宜通知如下：</tspan></text></g>
<g id="n8-3"><rect class="b brd" x="359" y="3001" width="272" height="63" rx="5"/><text class="t trd" x="366" y="3020"><tspan x="366">一、劳动节：x月x日（星期x）至x月x日（星</tspan><tspan x="366" dy="16.8">期x）放假，共x天。x月x日（星期x）正常上</tspan><tspan x="366" dy="16.8">班。</tspan></text></g>
<g id="n8-4"><rect class="b brd" x="359" y="3092" width="272" height="63" rx="5"/><text class="t trd" x="366" y="3111"><tspan x="366">二、各部门自行妥善安排好放假前工作，4月</tspan><tspan x="366" dy="16.8">30日下班前务必切断水、电源，关好门窗做</tspan><tspan x="366" dy="16.8">好安全防范工作。</tspan></text></g>
<g id="n8-5"><rect class="b brd" x="359" y="3183" width="272" height="46" rx="5"/><text class="t trd" x="366" y="3202"><tspan x="366">三、节日期间，全体员工需24小时保持手机</tspan><tspan x="366" dy="16.8">开机状态，已确保紧急情况联系畅通。</tspan></text></g>
<g id="n8-6"><rect class="b brd" x="398" y="3344" width="233" height="29" rx="5"/><text class="t trd" x="405" y="3363">四、放假期间，行政部人员轮流值班。</text></g>
<g id="n8-7"><rect class="b brd" x="244" y="3257" width="129" height="29" rx="5"/><text class="t trd" x="251" y="3276">预祝大家节日快乐!</text></g>
<g id="n8-8"><rect class="b brd" x="296" y="3315" width="77" height="29" rx="5"/><text class="t trd" x="303" y="3334">特此通知!</text></g>
<g id="n8-9"><rect class="b brd" x="340" y="3372" width="33" height="29" rx="5"/><text class="t trd" x="347" y="3391">xxx</text></g>
<g id="n8-10"><rect class="b brd" x="283" y="3430" width="90" height="29" rx="5"/><text class="t trd" x="290" y="3449">20xx年x月x日</text></g>

<!-- 篇九 nodes -->
<g id="n9-1"><rect class="b bbl" x="1803" y="3009" width="273" height="79" rx="5"/><text class="t tbl" x="1810" y="3028"><tspan x="1810">x年五一在即，为了便于公司同仁提前安排好</tspan><tspan x="1810" dy="16.8">工作和生活，现根据xxx办公厅通知精神及公</tspan><tspan x="1810" dy="16.8">司的福利政策，将"五一"期间的放假安排通知</tspan><tspan x="1810" dy="16.8">如下：</tspan></text></g>
<g id="n9-2"><rect class="b bbl" x="2100" y="3001" width="273" height="96" rx="5"/><text class="t tbl" x="2107" y="3020"><tspan x="2107">5月1日(星期X)至3日(星期日)放假，共X天。</tspan><tspan x="2107" dy="16.8">5月4日(星期一)上班。其中，国家法定的五一</tspan><tspan x="2107" dy="16.8">假期为5月1日至3日，共3天;公司福利政策为</tspan><tspan x="2107" dy="16.8">员工提供额外的假期为5月2X日至5月X日</tspan><tspan x="2107" dy="16.8">，共X天。</tspan></text></g>
<g id="n9-3"><rect class="b bbl" x="1803" y="3262" width="77" height="29" rx="5"/><text class="t tbl" x="1810" y="3281">温馨提示：</text></g>
<g id="n9-4"><rect class="b bbl" x="1906" y="3125" width="272" height="63" rx="5"/><text class="t tbl" x="1913" y="3144"><tspan x="1913">1)由于公司的五一放假开始时间已提前于国家</tspan><tspan x="1913" dy="16.8">规定的放假时间X天，因此不允许员工提前休</tspan><tspan x="1913" dy="16.8">假或不能按时回公司上班。</tspan></text></g>
<g id="n9-5"><rect class="b bbl" x="1906" y="3216" width="272" height="79" rx="5"/><text class="t tbl" x="1913" y="3235"><tspan x="1913">2)在节日期间，建议大家多参加有益的活动，</tspan><tspan x="1913" dy="16.8">注意劳逸结合，如离开工作地点，外出旅游、</tspan><tspan x="1913" dy="16.8">探亲访友等情况，请在旅途中注意财产和人身</tspan><tspan x="1913" dy="16.8">安全。</tspan></text></g>
<g id="n9-6"><rect class="b bbl" x="1906" y="3324" width="64" height="29" rx="5"/><text class="t tbl" x="1913" y="3343">行政部部</text></g>
<g id="n9-7"><rect class="b bbl" x="1906" y="3382" width="82" height="29" rx="5"/><text class="t tbl" x="1913" y="3401">x年5月XX日</text></g>

<!-- 篇十 nodes -->
<g id="n10-1"><rect class="b bin" x="838" y="3488" width="90" height="29" rx="5"/><text class="t tin" x="845" y="3507">公司各部门：</text></g>
<g id="n10-2"><rect class="b bin" x="656" y="3651" width="272" height="46" rx="5"/><text class="t tin" x="663" y="3670"><tspan x="663">根据国家法定假期的规定，并结合公司具体情</tspan><tspan x="663" dy="16.8">况，现对xx节放假做如下安排：</tspan></text></g>
<g id="n10-3"><rect class="b bin" x="359" y="3547" width="272" height="63" rx="5"/><text class="t tin" x="366" y="3566"><tspan x="366">一、放假时间：20xx年x月x日（周四）至x</tspan><tspan x="366" dy="16.8">日（周六），正文《关于节日放假通知》，x</tspan><tspan x="366" dy="16.8">月x日（周日）正常上班。</tspan></text></g>
<g id="n10-4"><rect class="b bin" x="359" y="3636" width="272" height="63" rx="5"/><text class="t tin" x="366" y="3655"><tspan x="366">二、请各部门负责人做好本部门的节前工作</tspan><tspan x="366" dy="16.8">安排，并检查相关设施、设备，做好防火、防</tspan><tspan x="366" dy="16.8">盗工作，确保办公场所的安全、有序。</tspan></text></g>
<g id="n10-5"><rect class="b bin" x="359" y="3748" width="272" height="46" rx="5"/><text class="t tin" x="366" y="3767"><tspan x="366">三、各部门负责人请保持节假期间的通讯畅</tspan><tspan x="366" dy="16.8">通，以便公司工作需要。</tspan></text></g>
<g id="n10-6"><rect class="b bin" x="268" y="3757" width="66" height="29" rx="5"/><text class="t tin" x="275" y="3776">特此通知</text></g>
<g id="n10-7"><rect class="b bin" x="91" y="3728" width="152" height="29" rx="5"/><text class="t tin" x="98" y="3747">主题词：xx节 放假 通知</text></g>
<g id="n10-8"><rect class="b bin" x="56" y="3786" width="187" height="29" rx="5"/><text class="t tin" x="63" y="3805">抄送：董事长 总经理 全体员工</text></g>
<g id="n10-9"><rect class="b bin" x="832" y="3874" width="96" height="29" rx="5"/><text class="t tin" x="839" y="3893">校队：  打印：</text></g>
<g id="n10-10"><rect class="b bin" x="734" y="3843" width="75" height="29" rx="5"/><text class="t tin" x="741" y="3862">综合行政部</text></g>
<g id="n10-11"><rect class="b bin" x="713" y="3901" width="96" height="29" rx="5"/><text class="t tin" x="720" y="3920">20xx年x月xx日</text></g>
</svg>
